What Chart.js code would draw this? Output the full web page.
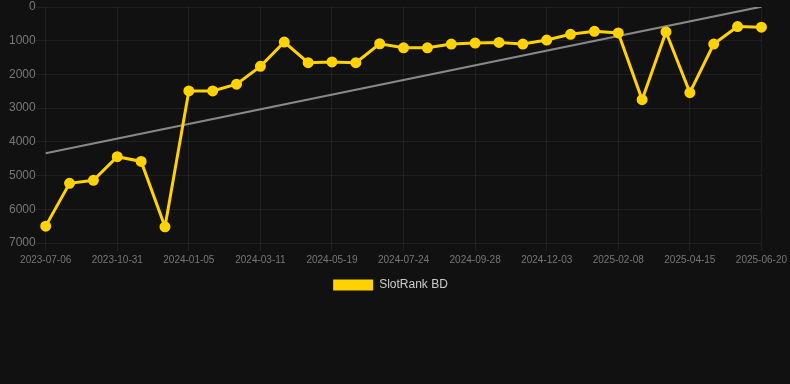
<!DOCTYPE html>
<html>
<head>
<meta charset="utf-8">
<script src="https://cdn.jsdelivr.net/npm/chart.js@4"></script>
<style>
  html, body { margin: 0; padding: 0; background: #111111; }
  #wrap { position: relative; width: 790px; height: 301px; }
</style>
</head>
<body>
<div id="wrap"><canvas id="grafico"></canvas></div>
<script>
const labels = [
    '2023-07-06', '2023-08-14', '2023-09-22', '2023-10-31', '2023-11-22', '2023-12-14',
    '2024-01-05', '2024-01-27', '2024-02-18', '2024-03-11', '2024-04-03', '2024-04-26',
    '2024-05-19', '2024-06-10', '2024-07-02', '2024-07-24', '2024-08-15', '2024-09-06',
    '2024-09-28', '2024-10-20', '2024-11-11', '2024-12-03', '2024-12-25', '2025-01-17',
    '2025-02-08', '2025-03-02', '2025-03-24', '2025-04-15', '2025-05-07', '2025-05-29',
    '2025-06-20'
];
const rankValues = [
    6500, 5230, 5140, 4440, 4580, 6520,
    2490, 2490, 2290, 1760, 1040, 1650,
    1630, 1650, 1090, 1210, 1210, 1100,
    1070, 1050, 1100, 980, 810, 720,
    770, 2750, 740, 2540, 1100, 580,
    600
];
const trendStart = 4340;
const trendEnd = -10;

document.addEventListener('DOMContentLoaded', function(){
    const ctx = document.getElementById('grafico').getContext('2d');
    const baseFont = 'Arial, Liberation Sans, sans-serif';
    new Chart(ctx, {
        type: 'line',
        data: {
            labels: labels,
            datasets: [{
                label: 'SlotRank BD',
                data: rankValues,
                borderColor: '#ffd200',
                backgroundColor: '#ffd200',
                borderWidth: 3,
                pointRadius: 4,
                pointHoverRadius: 4,
                tension: 0
            }, {
                label: 'Trend',
                data: [
                    { x: labels[0], y: trendStart },
                    { x: labels[labels.length - 1], y: trendEnd }
                ],
                borderColor: 'rgba(150, 150, 150, 0.9)',
                borderWidth: 2,
                pointRadius: 0,
                tension: 0
            }]
        },
        options: {
            responsive: true,
            maintainAspectRatio: false,
            animation: false,
            layout: { padding: { left: 9, right: 18 } },
            plugins: {
                legend: {
                    position: 'bottom',
                    labels: {
                        color: '#cccccc',
                        boxWidth: 40,
                        boxHeight: 11,
                        font: { family: baseFont, size: 12 },
                        generateLabels: chart => Chart.defaults.plugins.legend.labels.generateLabels(chart)
                            .filter(item => item.text !== 'Trend')
                            .map(item => Object.assign(item, { lineWidth: 0 }))
                    }
                },
                tooltip: { enabled: false }
            },
            scales: {
                x: {
                    grid: { color: 'rgba(255, 255, 255, 0.06)' },
                    border: { display: false },
                    ticks: {
                        color: '#777777',
                        maxRotation: 0,
                        font: { family: baseFont, size: 10 }
                    }
                },
                y: {
                    reverse: true,
                    min: 0,
                    max: 7000,
                    grid: { color: 'rgba(255, 255, 255, 0.06)', tickLength: 10 },
                    border: { display: false },
                    ticks: {
                        stepSize: 1000,
                        padding: 0,
                        color: '#777777',
                        font: { family: baseFont, size: 12, lineHeight: 0.9 },
                        callback: value => String(value)
                    }
                }
            }
        }
    });
});
</script>
</body>
</html>
